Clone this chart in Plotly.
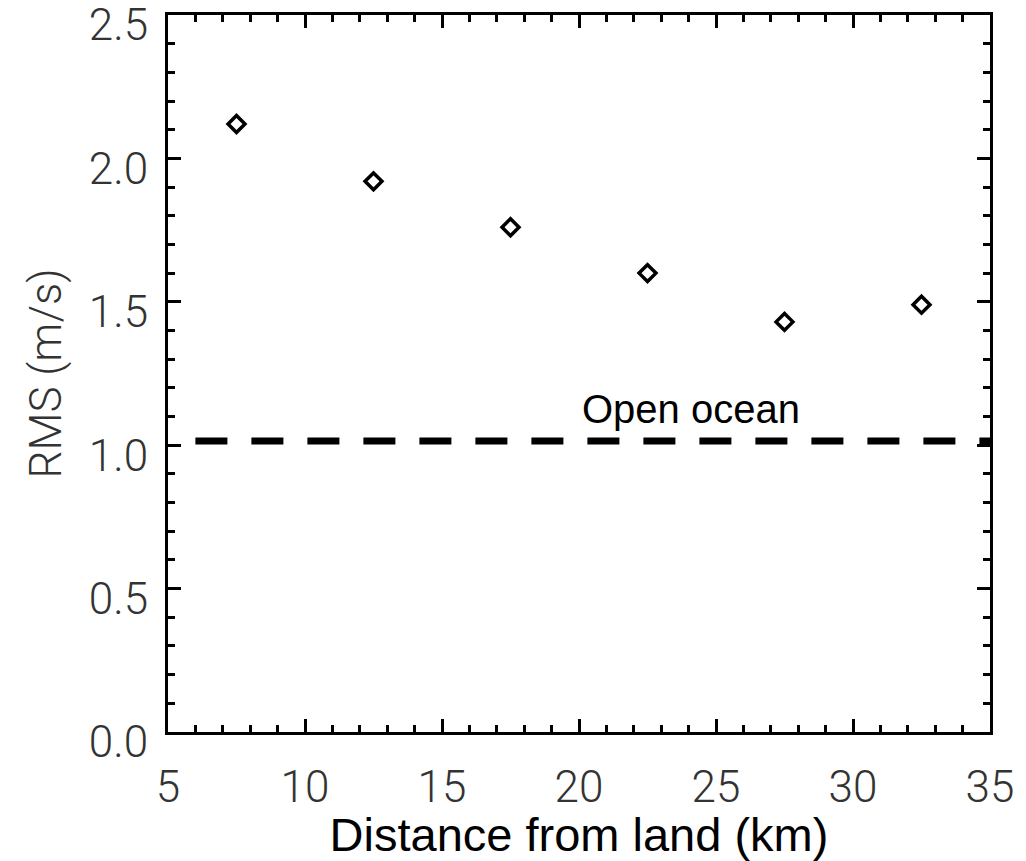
import plotly.graph_objects as go

# Data
distance_km = [7.5, 12.5, 17.5, 22.5, 27.5, 32.5]
rms_ms = [2.12, 1.92, 1.76, 1.60, 1.43, 1.49]

open_ocean_x = [6, 35]
open_ocean_rms = [1.015, 1.015]
open_ocean_label = "Open ocean"

x_tick_vals = [5, 10, 15, 20, 25, 30, 35]
y_tick_vals = [0.0, 0.5, 1.0, 1.5, 2.0, 2.5]

fig = go.Figure()

fig.add_trace(go.Scatter(
    x=open_ocean_x, y=open_ocean_rms, mode="lines",
    line=dict(color="black", width=7, dash="32px,24px"),
    showlegend=False, hoverinfo="skip",
))

fig.add_trace(go.Scatter(
    x=distance_km, y=rms_ms, mode="markers",
    marker=dict(symbol="diamond-open", size=13, color="black",
                line=dict(color="black", width=3.5)),
    showlegend=False,
))

fig.add_annotation(
    x=24.1, y=1.127, xref="x", yref="y", text=open_ocean_label,
    showarrow=False, font=dict(family="Liberation Sans, Arial", size=40, color="black"),
)

tick_font = dict(family="Roboto", size=44, color="#333333", weight=300)

fig.update_xaxes(
    range=[5, 35], tickvals=x_tick_vals, ticktext=[str(v) for v in x_tick_vals],
    ticks="inside", ticklen=13, tickwidth=3, tickcolor="black",
    minor=dict(dtick=1, ticks="inside", ticklen=7, tickwidth=3, tickcolor="black"),
    showline=True, linewidth=3, linecolor="black", mirror="allticks",
    showgrid=False, zeroline=False, tickfont=tick_font, ticklabelstandoff=14,
    automargin=True,
    title=dict(text="Distance from land (km)",
               font=dict(family="Liberation Sans, Arial", size=47, color="black"),
               standoff=2),
)
fig.update_yaxes(
    range=[0, 2.5], tickvals=y_tick_vals, ticktext=[f"{v:.1f}" for v in y_tick_vals],
    ticks="inside", ticklen=13, tickwidth=3, tickcolor="black",
    minor=dict(dtick=0.1, ticks="inside", ticklen=7, tickwidth=3, tickcolor="black"),
    showline=True, linewidth=3, linecolor="black", mirror="allticks",
    showgrid=False, zeroline=False, tickfont=tick_font, ticklabelstandoff=8,
    ticklabelshift=10, ticklabeloverflow="allow", automargin=False,
    title=dict(text="RMS (m/s)",
               font=dict(family="Roboto", size=44, color="#333333", weight=300),
               standoff=14),
)

fig.update_layout(
    width=1026, height=861,
    margin=dict(l=168, r=31, t=13, b=129),
    plot_bgcolor="white", paper_bgcolor="white",
)

fig.write_html("out.html")
